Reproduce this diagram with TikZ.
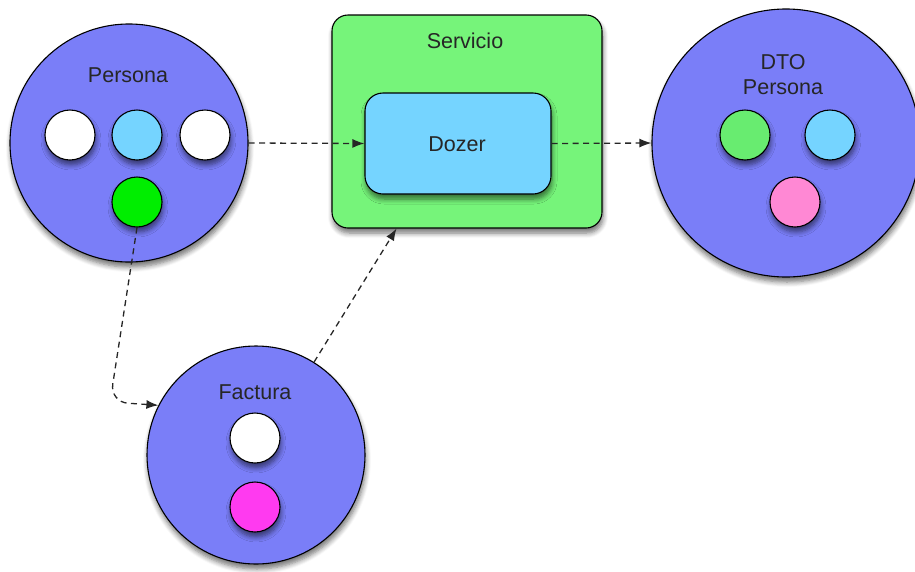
\documentclass[tikz,border=0pt]{standalone}
\usepackage{fontspec}
\setmainfont{Liberation Sans}
\usetikzlibrary{shadows.blur,calc,arrows.meta}
\definecolor{pblue}{RGB}{122,126,248}
\definecolor{sgreen}{RGB}{118,244,122}
\definecolor{dcyan}{RGB}{117,212,255}
\definecolor{bgreen}{RGB}{0,238,0}
\definecolor{lgreen}{RGB}{104,236,112}
\definecolor{lpink}{RGB}{255,136,212}
\definecolor{magen}{RGB}{255,58,240}
\tikzset{
  shd/.style={blur shadow={shadow xshift=1pt, shadow yshift=-5pt, shadow blur steps=6, shadow blur radius=5pt, shadow opacity=55}},
  big/.style={circle, draw=black, line width=1.1pt, fill=pblue, shd, inner sep=0pt},
  dot/.style={circle, draw=black, line width=1.1pt, minimum size=50pt, inner sep=0pt, shd},
  rbox/.style={rectangle, draw=black, line width=1.1pt, shd, inner sep=0pt},
  lbl/.style={font=\fontsize{21.5}{25}\selectfont, text=black!85, align=center},
  conn/.style={draw=black!85, line width=1.3pt, dash pattern=on 6pt off 4.5pt, -{Latex[length=12pt,width=9pt]}},
}
\begin{document}
\begin{tikzpicture}[x=1pt,y=-1pt]
\path[use as bounding box] (0,0) rectangle (915,571);
% Persona
\node[big, minimum size=238pt] (per) at (129,143) {};
\node[lbl] (perl) at (128,75) {Persona};
\node[dot, fill=white] (pw1) at (70,135) {};
\node[dot, fill=dcyan] (pc) at (137,135) {};
\node[dot, fill=white] (pw2) at (205,135) {};
\node[dot, fill=bgreen] (pg) at (137,202) {};
% Servicio
\node[rbox, fill=sgreen, rounded corners=16pt, minimum width=270pt, minimum height=213pt] (serv) at (467,121.5) {};
\node[lbl] (servl) at (465,41) {Servicio};
\node[rbox, fill=dcyan, rounded corners=18pt, minimum width=186pt, minimum height=101pt] (doz) at (458,143.5) {};
\node[lbl] (dozl) at (457,144) {Dozer};
% DTO Persona
\node[big, minimum size=268pt] (dto) at (786,143) {};
\node[lbl] (dtol) at (783,75) {DTO\\Persona};
\node[dot, fill=lgreen] (dg) at (745,135) {};
\node[dot, fill=dcyan] (dc) at (830,135) {};
\node[dot, fill=lpink] (dp) at (795,202) {};
% Factura
\node[big, minimum size=218pt] (fac) at (256,455) {};
\node[lbl] (facl) at (255,392) {Factura};
\node[dot, fill=white] (fw) at (255,438) {};
\node[dot, fill=magen] (fm) at (255,507) {};
% connectors
\coordinate (sin) at ($(serv.south west)!0.24!(serv.south east)$);
\coordinate (bend) at (110,402);
\draw[conn] (per.east) -- (doz.west);
\draw[conn] (doz.east) -- (dto.west);
\draw[conn, rounded corners=18pt] (pg.south) -- (bend) -- (fac.153);
\draw[conn] (fac.58) -- (sin);
\end{tikzpicture}
\end{document}
